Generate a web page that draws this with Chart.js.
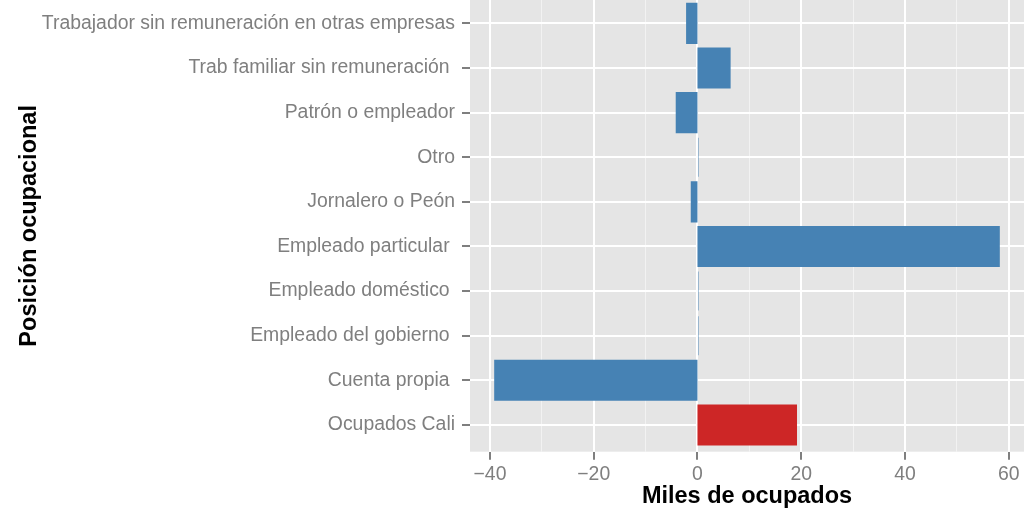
<!DOCTYPE html>
<html>
<head>
<meta charset="utf-8">
<script src="https://cdn.jsdelivr.net/npm/chart.js@4/dist/chart.umd.min.js"></script>
<style>
  html, body { margin: 0; padding: 0; background: #ffffff; }
  #wrap { width: 1028px; height: 509px; position: relative; }
  canvas { display: block; }
</style>
</head>
<body>
<div id="wrap"><canvas id="c" width="1028" height="509"></canvas></div>
<script>
// ---- data ----
const categories = [
  'Trabajador sin remuneración en otras empresas',
  'Trab familiar sin remuneración ',
  'Patrón o empleador',
  'Otro',
  'Jornalero o Peón',
  'Empleado particular ',
  'Empleado doméstico ',
  'Empleado del gobierno ',
  'Cuenta propia ',
  'Ocupados Cali'
];
const values = [-2.0, 6.2, -4.0, 0.1, -1.1, 58.1, 0.1, 0.1, -39.0, 19.0];
const totalCategory = 'Ocupados Cali';
const xTickValues = [-40, -30, -20, -10, 0, 10, 20, 30, 40, 50, 60];
const xTickLabels = ['\u221240', '', '\u221220', '', '0', '', '20', '', '40', '', '60'];
const xTitle = 'Miles de ocupados';
const yTitle = 'Posición ocupacional';

// ---- styles ----
const BLUE = '#4682B4';
const RED = '#CD2626';
const PANEL = '#E5E5E5';
const TICK_GREY = '#7F7F7F';
const FONT = '"Liberation Sans", Arial, Helvetica, sans-serif';

const vMin = Math.min(...values), vMax = Math.max(...values);
const span = vMax - vMin;

const panelBg = {
  id: 'panelBg',
  beforeDraw(chart) {
    const a = chart.chartArea, ctx = chart.ctx;
    ctx.save();
    ctx.fillStyle = PANEL;
    ctx.fillRect(a.left, a.top, a.right - a.left, a.bottom - a.top);
    ctx.restore();
  }
};

new Chart(document.getElementById('c'), {
  type: 'bar',
  data: {
    datasets: [{
      data: values.map((v, i) => ({ x: v, y: i })),
      backgroundColor: categories.map(c => c === totalCategory ? RED : BLUE),
      borderWidth: 0,
      barPercentage: 0.876,
      categoryPercentage: 1.0,
      inflateAmount: (ctx) => {
        const raw = ctx.raw;
        return raw && Math.abs(raw.x) < 0.5 ? 0 : 1;
      }
    }]
  },
  options: {
    indexAxis: 'y',
    responsive: false,
    devicePixelRatio: 1,
    animation: false,
    layout: { padding: { left: 0, right: 4, top: 0, bottom: 0 } },
    plugins: { legend: { display: false }, tooltip: { enabled: false } },
    scales: {
      x: {
        type: 'linear',
        position: 'bottom',
        offset: false,
        min: vMin - 0.05 * span,
        max: vMax + 0.05 * span,
        afterBuildTicks: (s) => { s.ticks = xTickValues.map(v => ({ value: v })); },
        afterFit: (s) => { s.height = 57.3; s.paddingLeft = 0; s.paddingRight = 0; },
        border: { display: false },
        grid: {
          offset: false,
          color: (ctx) => (ctx.tick && ctx.tick.value % 20 === 0) ? '#FFFFFF' : '#F2F2F2',
          lineWidth: (ctx) => (ctx.tick && ctx.tick.value % 20 === 0) ? 2 : 1,
          tickColor: (ctx) => (ctx.tick && ctx.tick.value % 20 === 0) ? TICK_GREY : 'rgba(0,0,0,0)',
          tickLength: 8,
          tickWidth: 2,
          drawTicks: true
        },
        ticks: {
          autoSkip: false,
          maxRotation: 0,
          color: TICK_GREY,
          padding: 3,
          font: { family: FONT, size: 19.4 },
          callback: (value, index) => xTickLabels[index]
        },
        title: {
          display: true,
          text: xTitle,
          color: '#000000',
          font: { family: FONT, size: 23.5, weight: 'bold' },
          padding: { top: 0, bottom: -1.5 }
        }
      },
      y: {
        type: 'linear',
        position: 'left',
        offset: false,
        reverse: true,
        min: -0.524,
        max: categories.length - 1 + 0.6,
        afterBuildTicks: (s) => { s.ticks = categories.map((c, i) => ({ value: i })); },
        afterFit: (s) => { s.width = 470; s.paddingTop = 0; s.paddingBottom = 0; },
        border: { display: false },
        grid: {
          offset: false,
          color: '#FFFFFF',
          lineWidth: 2,
          tickColor: TICK_GREY,
          tickLength: 8,
          tickWidth: 2
        },
        ticks: {
          autoSkip: false,
          color: TICK_GREY,
          padding: 7,
          font: { family: FONT, size: 19.4 },
          callback: (value, index) => categories[index]
        },
        title: {
          display: true,
          text: yTitle,
          color: '#000000',
          font: { family: FONT, size: 23.5, weight: 'bold' },
          padding: { top: 15, bottom: 0 }
        }
      }
    }
  },
  plugins: [panelBg]
});
</script>
</body>
</html>
